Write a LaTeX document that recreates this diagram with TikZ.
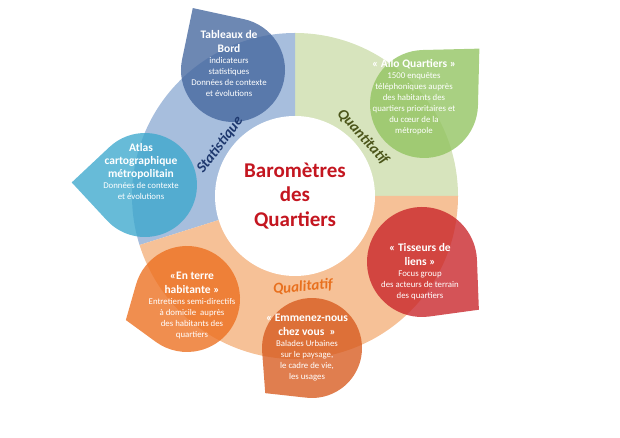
\documentclass[tikz,border=0pt]{standalone}
\usepackage{fontspec}
\setmainfont{Carlito}
\usetikzlibrary{calc}
\definecolor{ringbleu}{RGB}{167,190,221}
\definecolor{ringvert}{RGB}{215,228,189}
\definecolor{ringorange}{RGB}{246,193,151}
\definecolor{bleufonce}{RGB}{68,102,158}
\definecolor{vertclair}{RGB}{145,195,95}
\definecolor{turquoise}{RGB}{60,168,205}
\definecolor{rouge}{RGB}{200,35,40}
\definecolor{orangevif}{RGB}{236,110,30}
\definecolor{orangebrun}{RGB}{215,90,30}
\definecolor{titrerouge}{RGB}{196,22,32}
\definecolor{txtbleu}{RGB}{30,56,110}
\definecolor{txtvert}{RGB}{75,85,25}
\definecolor{txtorange}{RGB}{232,112,30}

\tikzstyle{bulle} = [fill opacity=0.78]
\tikzstyle{bulletext} = [text=white, align=center, inner sep=0pt,
font=\fontsize{8.8}{11}\selectfont]
\tikzstyle{axe} = [inner sep=0pt, font=\fontsize{15}{18}\selectfont\bfseries\itshape]
\newcommand{\titre}{\fontsize{11.5}{14}\selectfont\bfseries}
% goutte : centre, rayon, angle de la pointe, facteur de la pointe, style
\newcommand{\goutte}[5]{%
  \pgfmathsetmacro{\ecart}{acos(1/#4)}
  \fill[#5] ($(#1)+(#3:{#2*#4})$) -- ($(#1)+({#3-\ecart}:#2)$)
    arc[start angle={#3-\ecart}, end angle={#3+\ecart-360}, radius=#2] -- cycle;
}

\begin{document}
\begin{tikzpicture}[x=1pt, y=1pt]
\useasboundingbox (0,0) rectangle (620,438);
% Anneau
\coordinate (c) at (295,242);
\fill[ringvert] (c) -- ++(0:163) arc[start angle=0, end angle=90, radius=163] -- cycle;
\fill[ringbleu] (c) -- ++(90:163) arc[start angle=90, end angle=197.5, radius=163] -- cycle;
\fill[ringorange] (c) -- ++(197.5:163) arc[start angle=197.5, end angle=360, radius=163] -- cycle;
\node[circle, fill=white, minimum size=160, inner sep=0pt, align=center, text=titrerouge,
  font=\fontsize{21}{24.5}\selectfont\bfseries] (coeur) at (c) {Baromètres\\des\\Quartiers};

% Bulles
\coordinate (b1) at (233,368);
\coordinate (b2) at (424,334);
\coordinate (b3) at (145,253);
\coordinate (b4) at (422,176);
\coordinate (b5) at (187,139);
\coordinate (b6) at (312,90);
\goutte{b1}{52}{123}{1.42}{bulle, bleufonce}
\goutte{b2}{54}{45}{1.45}{bulle, vertclair}
\goutte{b3}{52}{178}{1.41}{bulle, turquoise}
\goutte{b4}{55}{-40}{1.35}{bulle, rouge}
\goutte{b5}{53}{199}{1.22}{bulle, orangevif}
\goutte{b6}{50}{224}{1.3}{bulle, orangebrun}

% Axes
\node[axe, text=txtbleu, rotate=53] (stat) at (220,293) {Statistique};
\node[axe, text=txtvert, rotate=-48] (quanti) at (363,301) {Quantitatif};
\node[axe, text=txtorange, rotate=5] (quali) at (303,151) {Qualitatif};

\node[bulletext] (t1) at (229,374) {\titre Tableaux de\\[3pt] \titre Bord\\ indicateurs\\ statistiques\\ Données de contexte\\ et évolutions};
\node[bulletext] (t2) at (414,341) {\titre « Allo Quartiers »\\ 1500 enquêtes\\ téléphoniques auprès\\ des habitants des\\ quartiers prioritaires et\\ du cœur de la\\ métropole};
\node[bulletext] (t3) at (141,266) {\titre Atlas\\[2pt] \titre cartographique\\[2pt] \titre métropolitain\\ Données de contexte\\ et évolutions};
\node[bulletext] (t4) at (420,166) {\titre « Tisseurs de\\[3pt] \titre liens »\\ Focus group\\ des acteurs de terrain\\ des quartiers};
\node[bulletext] (t5) at (192,133) {\titre «En terre\\[3pt] \titre habitante »\\ Entretiens semi-directifs\\ à domicile~ auprès\\ des habitants des\\ quartiers};
\node[bulletext] (t6) at (307,90) {\titre « Emmenez-nous\\[3pt] \titre chez vous~ »\\ Balades Urbaines\\ sur le paysage,\\ le cadre de vie,\\ les usages};
\end{tikzpicture}
\end{document}
